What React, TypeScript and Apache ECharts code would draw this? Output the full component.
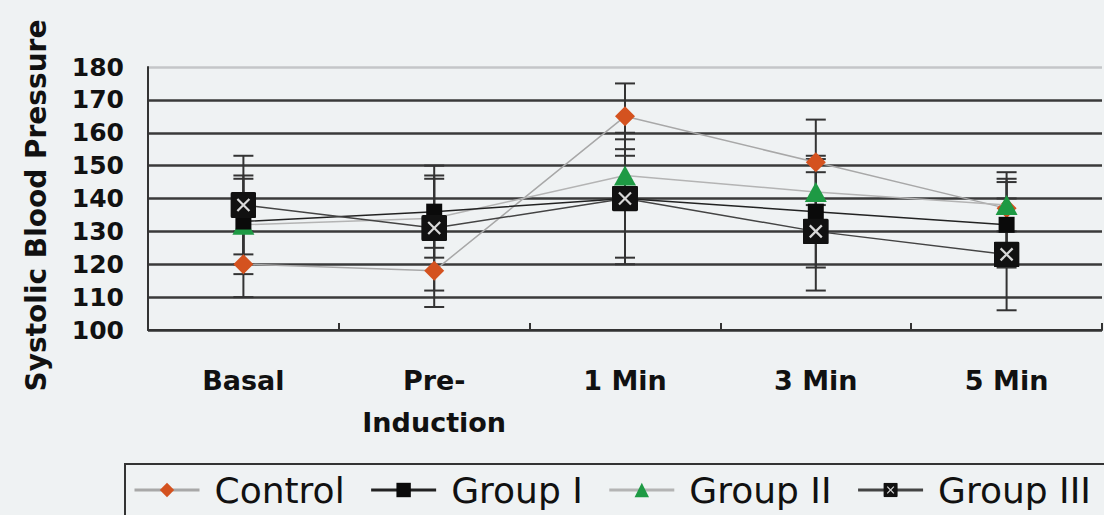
import React, { useEffect, useRef } from "react";
import * as echarts from "echarts";

const categories = ["Basal", "Pre-\nInduction", "1 Min", "3 Min", "5 Min"];
const yTicks = { min: 100, max: 180, interval: 10 };

const controlMean = [120, 118, 165, 151, 137];
const controlSD = [10, 11, 10, 13, 11];
const group1Mean = [133, 136, 140, 136, 132];
const group1SD = [13, 11, 18, 17, 13];
const group2Mean = [132, 134, 147, 142, 138];
const group2SD = [15, 12, 6, 10, 8];
const group3Mean = [138, 131, 140, 130, 123];
const group3SD = [15, 19, 20, 18, 17];

const seriesNames = ["Control", "Group I", "Group II", "Group III"];

const boxXSvg =
  '<svg xmlns="http://www.w3.org/2000/svg" width="26" height="26" viewBox="0 0 26 26">' +
  '<rect x="0" y="0" width="26" height="26" rx="2" fill="#111"/>' +
  '<line x1="7" y1="7" x2="19" y2="19" stroke="#d8d8d8" stroke-width="2.2"/>' +
  '<line x1="19" y1="7" x2="7" y2="19" stroke="#d8d8d8" stroke-width="2.2"/>' +
  "</svg>";
const boxXSymbol = "image://data:image/svg+xml;utf8," + encodeURIComponent(boxXSvg);

function errData(mean: number[], sd: number[]) {
  return mean.map((m, i) => [i, m - sd[i], m + sd[i]]);
}

function errorSeries(mean: number[], sd: number[]) {
  return {
    type: "custom",
    z: 1,
    silent: true,
    data: errData(mean, sd),
    encode: { x: 0, y: [1, 2] },
    renderItem: (params: any, api: any) => {
      const x = api.value(0);
      const lo = api.coord([x, api.value(1)]);
      const hi = api.coord([x, api.value(2)]);
      const hw = 10;
      const style = { stroke: "#333", lineWidth: 2 };
      return {
        type: "group",
        children: [
          { type: "line", shape: { x1: lo[0], y1: lo[1], x2: hi[0], y2: hi[1] }, style },
          { type: "line", shape: { x1: lo[0] - hw, y1: lo[1], x2: lo[0] + hw, y2: lo[1] }, style },
          { type: "line", shape: { x1: hi[0] - hw, y1: hi[1], x2: hi[0] + hw, y2: hi[1] }, style },
        ],
      };
    },
  };
}

export default function App() {
  const ref = useRef<HTMLDivElement>(null);
  useEffect(() => {
    if (!ref.current) return;
    const chart = echarts.init(ref.current, null, { renderer: "svg" });
    const option: any = {
      animation: false,
      backgroundColor: "#eff2f3",
      grid: { left: 148, right: 2, top: 67, bottom: 185, containLabel: false },
      xAxis: {
        type: "category",
        data: categories,
        boundaryGap: true,
        axisLine: { lineStyle: { color: "#333", width: 2 } },
        axisTick: { show: true, inside: true, length: 7, lineStyle: { color: "#333", width: 2 } },
        axisLabel: {
          fontFamily: "DejaVu Sans",
          fontWeight: "bold",
          fontSize: 27,
          lineHeight: 42,
          color: "#111",
          margin: 29,
          verticalAlign: "top",
        },
        splitLine: { show: false },
      },
      yAxis: {
        type: "value",
        min: yTicks.min,
        max: yTicks.max,
        interval: yTicks.interval,
        name: "Systolic Blood Pressure",
        nameLocation: "middle",
        nameGap: 98,
        nameTextStyle: {
          fontFamily: "DejaVu Sans",
          fontWeight: "bold",
          fontSize: 28,
          color: "#111",
          padding: [0, 14, 0, 0],
        },
        axisLine: { show: true, lineStyle: { color: "#333", width: 2 } },
        axisTick: { show: false },
        axisLabel: {
          fontFamily: "DejaVu Sans",
          fontWeight: "bold",
          fontSize: 25,
          color: "#111",
          margin: 24,
        },
        splitLine: {
          show: true,
          lineStyle: {
            color: ["#333", "#3a3a3a", "#3a3a3a", "#3a3a3a", "#3a3a3a", "#3a3a3a", "#3a3a3a", "#3a3a3a", "#c4c6c8"],
            width: 2.5,
          },
        },
      },
      legend: {
        left: 133,
        top: 470,
        padding: 0,
        itemGap: 25,
        itemWidth: 65,
        itemHeight: 18,
        textStyle: { fontFamily: "DejaVu Sans", fontSize: 36, color: "#111", lineHeight: 40, padding: [0, 0, 0, 10] },
        data: seriesNames.map((n) => ({ name: n, lineStyle: { width: 3 } })),
      },
      graphic: [
        {
          type: "rect",
          shape: { x: 125, y: 464, width: 1100, height: 90 },
          style: { fill: "transparent", stroke: "#333", lineWidth: 2 },
          silent: true,
        },
      ],
      series: [
        errorSeries(controlMean, controlSD),
        errorSeries(group1Mean, group1SD),
        errorSeries(group2Mean, group2SD),
        errorSeries(group3Mean, group3SD),
        {
          name: "Control",
          type: "line",
          z: 2,
          data: controlMean,
          symbol: "diamond",
          symbolSize: 20,
          itemStyle: { color: "#d4521f" },
          lineStyle: { color: "#a8a8a8", width: 1.5 },
        },
        {
          name: "Group I",
          type: "line",
          z: 4,
          data: group1Mean,
          symbol: "rect",
          symbolSize: 16,
          itemStyle: { color: "#0a0a0a" },
          lineStyle: { color: "#222", width: 1.5 },
        },
        {
          name: "Group II",
          type: "line",
          z: 3,
          data: group2Mean,
          symbol: "triangle",
          symbolSize: [22, 20],
          itemStyle: { color: "#1e9a44" },
          lineStyle: { color: "#b4b4b4", width: 1.5 },
        },
        {
          name: "Group III",
          type: "line",
          z: 5,
          data: group3Mean,
          symbol: boxXSymbol,
          symbolSize: 26,
          itemStyle: { color: "#111" },
          lineStyle: { color: "#444", width: 1.5 },
        },
      ],
    };
    chart.setOption(option);
    return () => chart.dispose();
  }, []);
  return <div ref={ref} style={{ width: 1104, height: 515, position: "absolute", left: 0, top: 0 }} />;
}
